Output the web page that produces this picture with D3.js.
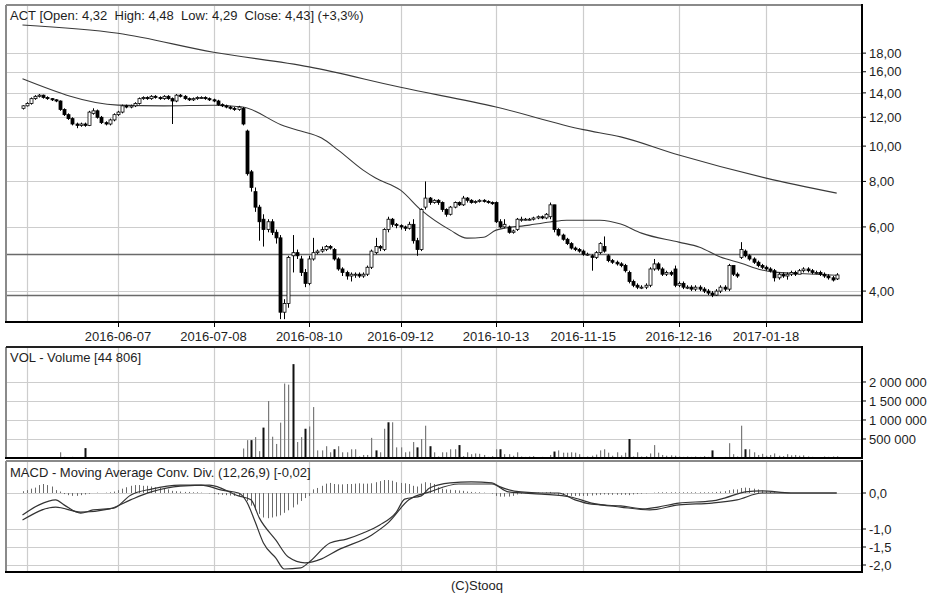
<!DOCTYPE html>
<html><head><meta charset="utf-8">
<script src="https://cdn.jsdelivr.net/npm/d3@7"></script>
<style>
body{margin:0;background:#fff}
svg{display:block;background:#fff}
text{font-family:"Liberation Sans",Arial,sans-serif;fill:#1e1e1e;font-size:13px}
</style>
</head><body>
<svg id="c" width="948" height="593"></svg>
<script>
// ---------- DATA ----------
const opens=[
12.7,12.9,13.1,13.5,13.7,13.8,13.6,13.5,13.4,13.3,
12.6,12.2,11.9,11.5,11.4,11.5,11.4,12.3,12.5,12.0,
11.6,11.5,11.8,12.2,12.4,12.9,12.8,12.9,13.1,13.5,
13.6,13.5,13.7,13.6,13.5,13.7,13.5,13.3,13.8,13.7,
13.5,13.4,13.5,13.6,13.6,13.5,13.4,13.3,13.0,12.9,
12.8,12.7,12.6,12.7,11.0,8.5,7.5,6.8,6.3,5.9,
6.2,5.8,5.6,3.5,3.7,5.0,5.1,4.9,4.5,4.2,
4.9,5.1,5.15,5.2,5.3,5.2,4.9,4.6,4.5,4.4,
4.45,4.45,4.4,4.45,4.65,5.1,5.3,5.2,5.9,6.3,
6.1,6.05,6.0,5.95,6.1,5.5,5.2,6.8,7.2,7.0,
7.1,7.0,6.7,6.5,6.8,7.0,6.9,7.2,7.1,7.0,
7.05,7.1,7.05,7.0,7.0,6.2,6.0,6.0,5.8,5.9,
6.3,6.3,6.3,6.3,6.35,6.4,6.35,6.4,6.9,5.9,
5.7,5.55,5.4,5.25,5.2,5.15,5.05,5.0,4.95,5.1,
5.3,5.0,4.85,4.8,4.75,4.7,4.5,4.25,4.15,4.1,
4.1,4.15,4.6,4.75,4.6,4.45,4.5,4.6,4.15,4.2,
4.1,4.1,4.05,4.1,4.05,4.0,3.95,3.9,4.0,4.1,
4.05,4.7,4.45,4.95,5.15,5.0,4.9,4.8,4.7,4.65,
4.6,4.55,4.35,4.45,4.4,4.45,4.5,4.45,4.55,4.6,
4.55,4.5,4.5,4.45,4.4,4.35,4.32];
const highs=[
12.95,13.2,13.6,13.8,13.9,13.85,13.7,13.55,13.45,13.35,
12.7,12.3,12.0,11.6,11.6,11.6,12.5,12.7,12.6,12.1,
11.7,11.9,12.3,12.5,13.0,13.0,13.0,13.2,13.6,13.7,
13.7,13.8,13.8,13.7,13.8,13.8,13.6,13.9,13.9,13.8,
13.6,13.6,13.7,13.7,13.7,13.6,13.5,13.4,13.1,13.0,
12.9,12.8,12.9,12.8,11.1,8.6,7.7,6.9,6.5,6.3,
6.3,5.9,5.7,3.8,5.0,5.7,5.2,5.0,4.6,5.0,
5.6,5.2,5.3,5.35,5.35,5.25,4.95,4.65,4.55,4.5,
4.5,4.5,4.5,4.7,5.2,5.6,5.35,5.95,6.4,6.35,
6.15,6.1,6.05,6.2,6.3,5.6,6.75,8.0,7.25,7.15,
7.15,7.05,6.75,6.85,7.05,7.05,7.3,7.25,7.15,7.1,
7.15,7.15,7.1,7.05,7.05,6.3,6.3,6.05,5.9,6.35,
6.4,6.35,6.35,6.4,6.45,6.45,6.55,7.0,6.9,5.95,
5.75,5.6,5.45,5.3,5.25,5.2,5.1,5.05,5.15,5.45,
5.65,5.05,4.9,4.85,4.8,4.75,4.55,4.3,4.2,4.15,
4.2,4.65,4.9,4.8,4.65,4.55,4.55,4.7,4.25,4.25,
4.15,4.15,4.15,4.15,4.1,4.05,4.0,4.05,4.15,4.15,
4.75,4.7,4.5,5.45,5.2,5.05,4.95,4.85,4.75,4.7,
4.65,4.6,4.5,4.5,4.5,4.55,4.55,4.6,4.65,4.65,
4.6,4.55,4.55,4.5,4.45,4.4,4.48];
const lows=[
12.6,12.85,13.0,13.4,13.6,13.5,13.4,13.3,13.2,12.5,
12.1,11.8,11.4,11.2,11.3,11.3,11.35,12.2,11.9,11.5,
11.4,11.4,11.7,12.1,12.3,12.7,12.7,12.8,13.0,13.4,
13.4,13.4,13.5,13.4,13.4,13.4,11.5,13.2,13.6,13.4,
13.3,13.3,13.4,13.5,13.4,13.3,13.2,12.9,12.8,12.7,
12.6,12.5,12.5,11.4,8.3,7.5,6.6,5.5,5.3,5.8,
5.7,5.4,3.35,3.35,3.6,4.5,4.9,4.4,4.1,4.15,
4.85,5.05,5.1,5.15,5.2,4.85,4.55,4.4,4.3,4.25,
4.35,4.35,4.35,4.4,4.6,5.05,5.15,5.15,5.8,6.0,
5.95,5.9,5.85,5.9,5.4,5.0,5.15,6.7,6.9,6.95,
6.9,6.6,6.4,6.45,6.75,6.85,6.85,7.0,6.95,6.95,
7.0,7.0,6.95,6.9,6.15,5.95,5.95,5.75,5.75,5.85,
6.2,6.25,6.25,6.25,6.3,6.3,6.3,6.3,5.8,5.65,
5.5,5.35,5.2,5.15,5.1,5.0,5.0,4.55,4.9,5.05,
5.1,4.8,4.75,4.7,4.65,4.5,4.2,4.1,4.05,4.05,
4.05,4.1,4.55,4.55,4.4,4.4,4.4,4.1,4.1,4.05,
4.05,4.0,4.0,4.0,3.95,3.9,3.85,3.88,3.95,4.0,
4.0,4.4,4.35,4.9,4.95,4.85,4.75,4.65,4.6,4.55,
4.5,4.25,4.3,4.35,4.3,4.4,4.4,4.45,4.5,4.5,
4.45,4.45,4.4,4.35,4.3,4.25,4.29];
const closes=[
12.9,13.1,13.5,13.7,13.8,13.6,13.5,13.4,13.3,12.6,
12.2,11.9,11.5,11.4,11.5,11.4,12.4,12.5,12.0,11.6,
11.5,11.8,12.2,12.4,12.9,12.8,12.9,13.1,13.5,13.6,
13.5,13.7,13.6,13.5,13.7,13.5,13.3,13.8,13.7,13.5,
13.4,13.5,13.6,13.6,13.5,13.4,13.3,13.0,12.9,12.8,
12.7,12.6,12.8,11.5,8.4,7.7,6.8,6.2,5.9,6.2,
5.8,5.6,3.5,3.7,4.95,5.1,5.0,4.5,4.2,4.9,
5.1,5.15,5.2,5.3,5.25,4.9,4.6,4.5,4.4,4.45,
4.45,4.4,4.45,4.65,5.15,5.3,5.25,5.9,6.3,6.1,
6.05,6.0,5.95,6.1,5.5,5.2,6.7,7.2,7.0,7.1,
7.0,6.7,6.5,6.8,7.0,6.9,7.2,7.1,7.0,7.05,
7.1,7.05,7.0,6.95,6.2,6.0,6.1,5.8,5.85,6.3,
6.3,6.3,6.3,6.35,6.4,6.35,6.5,6.9,5.9,5.7,
5.55,5.4,5.25,5.2,5.15,5.05,5.05,4.95,5.1,5.4,
5.15,4.85,4.8,4.75,4.7,4.55,4.25,4.15,4.1,4.1,
4.15,4.6,4.75,4.6,4.45,4.5,4.45,4.15,4.2,4.1,
4.1,4.05,4.1,4.05,4.0,3.95,3.9,4.0,4.1,4.05,
4.7,4.45,4.4,5.2,5.0,4.9,4.8,4.7,4.65,4.6,
4.55,4.35,4.45,4.4,4.45,4.5,4.45,4.55,4.6,4.55,
4.5,4.5,4.45,4.4,4.35,4.29,4.43];

// long moving average (index, price)
const maLongIdx=[0,23,46,69,91,114,135,144,158,179,196];
const maLongVal=[21.5,20.4,18.1,16.5,14.5,12.8,11.1,10.6,9.45,8.17,7.43];
// short moving average (index, price)
const maShortIdx=[0,23,34,46,53,63,67,72,76,82,85,91,96,103,107,111,114,122,127,131,139,144,149,158,163,168,173,178,181,187,196];
const maShortVal=[15.3,12.96,12.9,12.95,12.8,11.35,11.0,10.52,9.75,8.59,8.17,7.57,6.67,5.88,5.59,5.62,5.88,6.07,6.19,6.26,6.26,6.11,5.77,5.45,5.28,4.96,4.77,4.57,4.51,4.47,4.42];
// horizontal price levels
const levels=[5.04,3.89];

// volume (thousands)
const volumeK=[
0,0,0,0,0,0,0,0,0,150,
30,20,30,0,0,260,0,0,0,0,
0,0,0,0,0,0,0,0,0,0,
0,0,0,0,0,0,20,0,0,0,
0,0,0,0,0,0,0,0,0,0,
0,0,0,250,470,470,550,180,800,1500,
560,370,930,1960,1930,2470,420,550,770,830,
1340,200,200,310,150,230,310,150,150,230,
230,40,80,80,530,200,150,770,940,940,
280,280,150,170,420,280,500,850,310,150,
40,150,150,230,230,340,50,150,100,120,
110,80,30,50,230,230,100,100,60,150,
40,30,40,50,20,30,20,80,170,200,
140,140,150,140,100,30,40,60,90,200,
230,140,60,150,70,140,500,40,150,40,
50,120,340,140,80,60,70,60,40,30,
40,30,40,30,50,30,200,20,20,30,
390,100,40,850,230,230,150,80,110,60,
80,120,60,50,100,70,80,60,70,40,
30,20,20,40,30,40,45];
const volDark=[15,55,58,65,68,75,85,88,95,98,105,115,128,146,166,174];

// MACD
const macdIdx=[0,4,8,10,14,17,22,26,31,38,43,48,52,54,56,58,61,63,67,69,74,78,82,86,90,92,96,98,103,108,113,115,120,125,129,133,137,144,150,153,158,166,169,174,178,185,196];
const macdVal=[-0.61,-0.33,-0.19,-0.33,-0.56,-0.47,-0.42,-0.06,0.11,0.22,0.22,0.08,0,-0.25,-0.8,-1.39,-1.81,-2.11,-2.08,-1.92,-1.39,-1.28,-1.11,-0.89,-0.53,-0.17,-0.08,0.14,0.28,0.31,0.28,0.17,0.03,0,0,-0.19,-0.31,-0.36,-0.44,-0.39,-0.28,-0.22,-0.14,0.03,0.06,0,0];
const sigIdx=[0,8,14,21,26,31,38,45,52,55,57,61,64,68,72,76,84,88,93,98,105,113,117,125,132,137,144,151,158,166,172,178,185,196];
const sigVal=[-0.75,-0.39,-0.53,-0.44,-0.19,0.03,0.19,0.22,-0.08,-0.19,-0.69,-1.31,-1.78,-1.94,-1.83,-1.58,-1.17,-0.83,-0.19,0.03,0.25,0.25,0.03,-0.03,-0.11,-0.28,-0.39,-0.47,-0.33,-0.28,-0.19,0,0,0];
const macdHist=[
0.05,0.08,0.12,0.15,0.22,0.25,0.22,0.18,0.08,0.04,
-0.03,-0.06,-0.08,-0.08,-0.06,-0.04,-0.02,0,0.01,0,
0.01,0.02,0.04,0.08,0.12,0.16,0.2,0.22,0.22,0.2,
0.2,0.18,0.16,0.14,0.12,0.1,0.06,0.05,0.04,0.03,
0.03,0.02,0.02,0.01,0,-0.01,-0.03,-0.04,-0.05,-0.06,
-0.07,-0.08,-0.08,-0.12,-0.22,-0.35,-0.48,-0.58,-0.68,-0.7,
-0.68,-0.65,-0.62,-0.55,-0.48,-0.4,-0.32,-0.22,-0.14,-0.08,
0.1,0.14,0.2,0.26,0.28,0.25,0.24,0.24,0.25,0.25,
0.26,0.27,0.26,0.26,0.27,0.3,0.33,0.36,0.36,0.34,
0.3,0.28,0.27,0.25,0.2,0.18,0.26,0.3,0.28,0.25,
0.16,0.12,0.1,0.09,0.08,0.07,0.06,0.04,0.03,0.02,
0.02,0.01,0,-0.02,-0.08,-0.1,-0.1,-0.1,-0.08,-0.04,
-0.02,-0.01,0,0,0.01,0.01,0.02,0.03,-0.02,-0.05,
-0.06,-0.08,-0.08,-0.08,-0.08,-0.08,-0.08,-0.07,-0.06,-0.05,
-0.04,-0.05,-0.05,-0.05,-0.05,-0.05,-0.06,-0.04,-0.03,-0.02,
-0.01,0,0.01,0.02,0.02,0.02,0.02,0.02,0.02,0.02,
0.02,0.02,0.02,0.02,0.02,0.02,0.02,0.03,0.04,0.05,
0.08,0.1,0.1,0.14,0.15,0.14,0.12,0.1,0.07,0.05,
0.03,0.02,0.01,0.01,0,0,0,0,0,0,
0,0,0,0,0,0,0];

// axes
const gridIdx=[1,23,46,69,91,114,135,158,179];
const dateTickIdx=[23,46,69,91,114,135,158,179];
const dateTickLabels=['2016-06-07','2016-07-08','2016-08-10','2016-09-12','2016-10-13','2016-11-15','2016-12-16','2017-01-18'];
const priceTicks=[4,6,8,10,12,14,16,18];
const priceTickLabels=['4,00','6,00','8,00','10,00','12,00','14,00','16,00','18,00'];
const volTicksK=[500,1000,1500,2000];
const volTickLabels=['500 000','1 000 000','1 500 000','2 000 000'];
const macdTicks=[0,-1,-1.5,-2];
const macdTickLabels=['0,0','-1,0','-1,5','-2,0'];
const titleMain='ACT [Open: 4,32  High: 4,48  Low: 4,29  Close: 4,43] (+3,3%)';
const titleVol='VOL - Volume [44 806]';
const titleMacd='MACD - Moving Average Conv. Div. (12,26,9) [-0,02]';
const footer='(C)Stooq';

// ---------- LAYOUT ----------
const L=6,R=862;
const P1={t:5,b:322}, P2={t:347,b:458}, P3={t:461,b:572};
const svg=d3.select('#c');
const x=d3.scaleLinear().domain([0,196]).range([22.5,836.7]);
const yP=d3.scaleLog().domain([3.29,24.4]).range([P1.b,P1.t]);
const yV=d3.scaleLinear().domain([0,2921]).range([P2.b,P2.t]);
const yM=d3.scaleLinear().domain([-2.194,0.889]).range([P3.b,P3.t]);
const grid='#cdcdcd';

function panelGrid(P,yScale,ticks){
  const g=svg.append('g');
  g.selectAll('.v').data(gridIdx).join('line')
    .attr('x1',d=>Math.round(x(d))+0.5).attr('x2',d=>Math.round(x(d))+0.5)
    .attr('y1',P.t).attr('y2',P.b).attr('stroke',grid).attr('stroke-width',1.2);
  g.selectAll('.h').data(ticks).join('line')
    .attr('x1',L).attr('x2',R).attr('y1',d=>Math.round(yScale(d))+0.5).attr('y2',d=>Math.round(yScale(d))+0.5)
    .attr('stroke',grid).attr('stroke-width',1.2);
}
panelGrid(P1,yP,priceTicks);
panelGrid(P2,yV,volTicksK);
panelGrid(P3,yM,macdTicks);

// price levels
svg.append('g').selectAll('line').data(levels).join('line')
  .attr('x1',L).attr('x2',R).attr('y1',d=>yP(d)).attr('y2',d=>yP(d))
  .attr('stroke','#6a6a6a').attr('stroke-width',1.6);

// moving averages
const lineP=d3.line().x(d=>x(d[0])).y(d=>yP(d[1])).curve(d3.curveMonotoneX);
svg.append('path').datum(maLongIdx.map((d,i)=>[d,maLongVal[i]])).attr('d',lineP)
  .attr('fill','none').attr('stroke','#3a3a3a').attr('stroke-width',1.1);
svg.append('path').datum(maShortIdx.map((d,i)=>[d,maShortVal[i]])).attr('d',lineP)
  .attr('fill','none').attr('stroke','#3a3a3a').attr('stroke-width',1.1);

// candles
const candles=closes.map((c,i)=>({i,o:opens[i],h:highs[i],l:lows[i],c}));
const cg=svg.append('g');
cg.selectAll('line').data(candles).join('line')
  .attr('x1',d=>Math.round(x(d.i))+0.5).attr('x2',d=>Math.round(x(d.i))+0.5)
  .attr('y1',d=>yP(d.h)).attr('y2',d=>yP(d.l)).attr('stroke','#000').attr('stroke-width',1);
cg.selectAll('rect').data(candles).join('rect')
  .attr('x',d=>Math.round(x(d.i))-1).attr('width',3)
  .attr('y',d=>yP(Math.max(d.o,d.c)))
  .attr('height',d=>Math.max(1,Math.abs(yP(d.o)-yP(d.c))))
  .attr('fill',d=>d.c>=d.o?'#fff':'#000').attr('stroke','#000').attr('stroke-width',0.8);

// volume bars
const vg=svg.append('g');
vg.selectAll('rect').data(volumeK.map((v,i)=>({i,v}))).join('rect')
  .filter(d=>d.v>0)
  .attr('x',d=>volDark.includes(d.i)?Math.round(x(d.i))-0.5:Math.round(x(d.i)))
  .attr('width',d=>volDark.includes(d.i)?2:1.2)
  .attr('y',d=>yV(d.v)).attr('height',d=>yV(0)-yV(d.v))
  .attr('fill',d=>volDark.includes(d.i)?'#111':'#7a7a7a');

// MACD histogram
svg.append('g').selectAll('line').data(macdHist.map((v,i)=>({i,v}))).join('line')
  .filter(d=>d.v!==0)
  .attr('x1',d=>Math.round(x(d.i))+0.5).attr('x2',d=>Math.round(x(d.i))+0.5)
  .attr('y1',yM(0)).attr('y2',d=>yM(d.v)).attr('stroke','#6a6a6a').attr('stroke-width',1);
const lineM=d3.line().x(d=>x(d[0])).y(d=>yM(d[1])).curve(d3.curveMonotoneX);
svg.append('path').datum(sigIdx.map((d,i)=>[d,sigVal[i]])).attr('d',lineM)
  .attr('fill','none').attr('stroke','#333').attr('stroke-width',1.2);
svg.append('path').datum(macdIdx.map((d,i)=>[d,macdVal[i]])).attr('d',lineM)
  .attr('fill','none').attr('stroke','#333').attr('stroke-width',1.2);

// frames
function frame(P,topColor){
  svg.append('line').attr('x1',L).attr('x2',L).attr('y1',P.t).attr('y2',P.b).attr('stroke','#8a8a8a').attr('stroke-width',2);
  svg.append('line').attr('x1',L).attr('x2',R).attr('y1',P.t).attr('y2',P.t).attr('stroke',topColor).attr('stroke-width',2);
  svg.append('line').attr('x1',R).attr('x2',R).attr('y1',P.t-1).attr('y2',P.b+1).attr('stroke','#000').attr('stroke-width',2);
  svg.append('line').attr('x1',L-1).attr('x2',R+1).attr('y1',P.b).attr('y2',P.b).attr('stroke','#000').attr('stroke-width',2);
}
frame(P1,'#8a8a8a');
frame(P2,'#222');
frame(P3,'#8a8a8a');

// right axes
function rightAxis(yScale,ticks,labels){
  const g=svg.append('g');
  g.selectAll('line').data(ticks).join('line')
    .attr('x1',R).attr('x2',R+4).attr('y1',d=>yScale(d)).attr('y2',d=>yScale(d)).attr('stroke','#000');
  g.selectAll('text').data(ticks).join('text')
    .attr('x',R+7).attr('y',d=>yScale(d)).attr('dy','0.36em').text((d,i)=>labels[i]);
}
rightAxis(yP,priceTicks,priceTickLabels);
rightAxis(yV,volTicksK,volTickLabels);
rightAxis(yM,macdTicks,macdTickLabels);

// date axis
const dg=svg.append('g');
dg.selectAll('line').data(dateTickIdx).join('line')
  .attr('x1',d=>Math.round(x(d))+0.5).attr('x2',d=>Math.round(x(d))+0.5)
  .attr('y1',P1.b).attr('y2',P1.b+5).attr('stroke','#000');
dg.selectAll('text').data(dateTickIdx).join('text')
  .attr('x',d=>x(d)).attr('y',341).attr('text-anchor','middle').text((d,i)=>dateTickLabels[i]);

// titles
svg.append('text').attr('x',10).attr('y',20).attr('xml:space','preserve').style('white-space','pre').text(titleMain);
svg.append('text').attr('x',10).attr('y',362).text(titleVol);
svg.append('text').attr('x',10).attr('y',477).text(titleMacd);
svg.append('text').attr('x',477).attr('y',590).attr('text-anchor','middle').text(footer);
</script>
</body></html>
